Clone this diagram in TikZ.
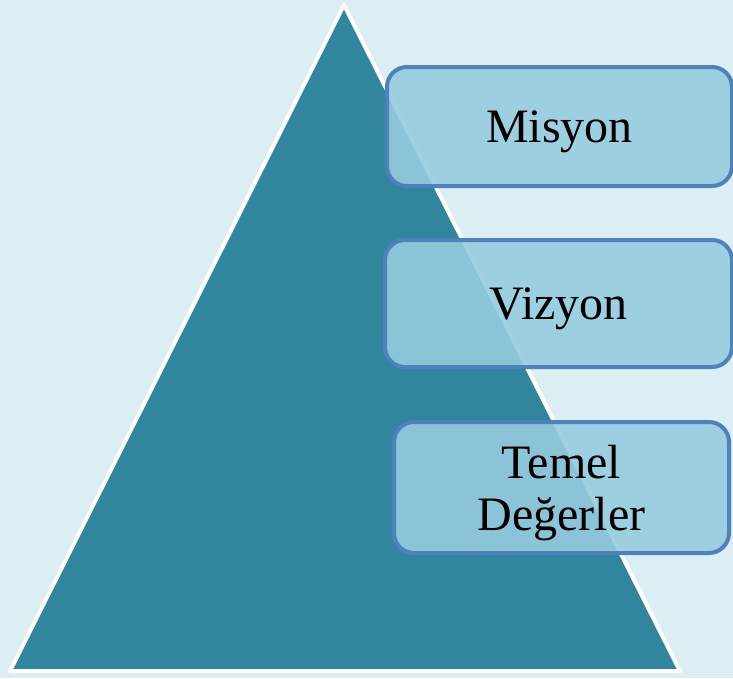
\documentclass[tikz,border=0pt]{standalone}
\usepackage{fontspec}
\setmainfont{Liberation Serif}
\definecolor{bgblue}{HTML}{DBEEF4}
\definecolor{pyrteal}{HTML}{31869E}
\definecolor{boxfill}{HTML}{95CCDE}
\definecolor{boxline}{HTML}{4F81BD}

\begin{document}
\begin{tikzpicture}[
			x=1pt, y=-1pt,
			box/.style={rectangle, draw=boxline, line width=4pt, rounded corners=20pt,
				fill=boxfill, fill opacity=0.89, text opacity=1, align=center,
				inner sep=0pt, text depth=0pt, font=\fontsize{48}{52}\selectfont},
			pyr/.style={fill=pyrteal, draw=white, line width=4pt, line join=round}
		]
			\fill[bgblue] (0,0) rectangle (733,678);
			\useasboundingbox (0,0) rectangle (733,678);
			\clip (0,0) rectangle (733,678);

			\coordinate (apex) at (344,5);
			\coordinate (baseL) at (10,671);
			\coordinate (baseR) at (680,671);
			\draw[pyr] (apex) -- (baseR) -- (baseL) -- cycle;

			\node[box, minimum width=345pt, minimum height=119pt] (misyon) at (559.5,126.5) {Misyon};
			\node[box, minimum width=347pt, minimum height=127pt] (vizyon) at (558.5,303.5) {Vizyon};
			\node[box, minimum width=335pt, minimum height=131pt] (degerler) at (561.5,487.5) {Temel\\Değerler};
		\end{tikzpicture}
\end{document}
